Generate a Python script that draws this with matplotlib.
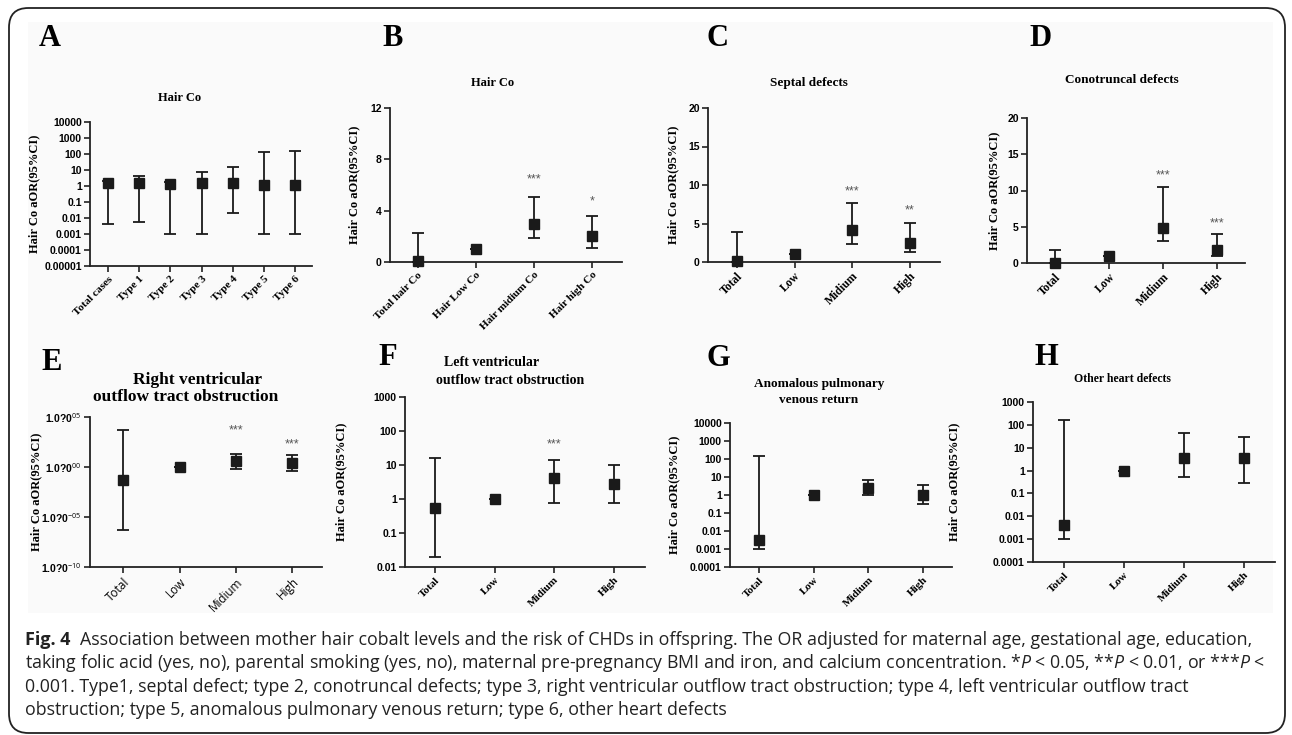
import matplotlib
matplotlib.use("Agg")
import matplotlib.pyplot as plt
from matplotlib.patches import FancyBboxPatch, Rectangle
from matplotlib.ticker import FixedLocator, FixedFormatter, NullLocator

W, H = 1292, 735

# ---- data ----
a_cats = ["Total cases", "Type 1", "Type 2", "Type 3", "Type 4", "Type 5", "Type 6"]
a_or = [1.5, 1.5, 1.4, 1.5, 1.5, 1.2, 1.2]
a_lo = [0.004, 0.006, 0.001, 0.001, 0.02, 0.001, 0.001]
a_hi = [2.2, 4.0, 1.8, 8.0, 16.0, 140.0, 150.0]

b_cats = ["Total hair Co", "Hair Low Co", "Hair midium Co", "Hair high Co"]
b_or = [0.1, 1.0, 3.0, 2.0]
b_lo = [0.0, 1.0, 1.85, 1.1]
b_hi = [2.25, 1.0, 5.1, 3.55]
b_stars = ["", "", "***", "*"]
b_star_y = [0, 0, 6.4, 4.7]

grp_cats = ["Total", "Low", "Midium", "High"]

c_or = [0.1, 1.0, 4.2, 2.45]
c_lo = [0.0, 1.0, 2.35, 1.3]
c_hi = [3.85, 1.0, 7.7, 5.1]
c_stars = ["", "", "***", "**"]
c_star_y = [0, 0, 9.2, 6.75]

d_or = [0.0, 0.95, 4.85, 1.85]
d_lo = [0.0, 0.95, 3.1, 0.9]
d_hi = [1.85, 0.95, 10.45, 4.0]
d_stars = ["", "", "***", "***"]
d_star_y = [0, 0, 12.1, 5.4]

e_or = [0.047, 1.0, 4.0, 2.7]
e_lo = [5e-7, 1.0, 0.63, 0.4]
e_hi = [4600, 1.0, 18, 16]
e_stars = ["", "", "***", "***"]
e_star_y = [1, 1, 4600, 185]
e_ticks = [1e-10, 1e-5, 1, 1e5]
e_ticklabels = [r"1.0?0$^{-10}$", r"1.0?0$^{-05}$", r"1.0?0$^{00}$", r"1.0?0$^{05}$"]

f_or = [0.56, 1.0, 4.2, 2.7]
f_lo = [0.02, 1.0, 0.75, 0.76]
f_hi = [16, 1.0, 13.7, 10.2]
f_stars = ["", "", "***", ""]
f_star_y = [1, 1, 40, 1]

g_or = [0.003, 1.0, 2.6, 0.95]
g_lo = [0.001, 1.0, 0.95, 0.3]
g_hi = [145, 1.0, 7.0, 3.4]

h_or = [0.004, 1.0, 3.7, 3.7]
h_lo = [0.001, 1.0, 0.55, 0.3]
h_hi = [160, 1.0, 42, 28]

caption_lines = [
    "Association between mother hair cobalt levels and the risk of CHDs in offspring. The OR adjusted for maternal age, gestational age, education,",
    "taking folic acid (yes, no), parental smoking (yes, no), maternal pre-pregnancy BMI and iron, and calcium concentration. *$P$ < 0.05, **$P$ < 0.01, or ***$P$ <",
    "0.001. Type1, septal defect; type 2, conotruncal defects; type 3, right ventricular outflow tract obstruction; type 4, left ventricular outflow tract",
    "obstruction; type 5, anomalous pulmonary venous return; type 6, other heart defects",
]

plt.rcParams["mathtext.fontset"] = "custom"
plt.rcParams["mathtext.rm"] = "Open Sans"
plt.rcParams["mathtext.it"] = "Open Sans:italic"

SERIF = "Liberation Serif"
SANS = "Liberation Sans"

fig = plt.figure(figsize=(W / 100, H / 100), dpi=100)

# faint grey backdrop behind the panels
fig.patches.append(Rectangle((28 / W, 1 - 613 / H), (1273 - 28) / W, (613 - 22) / H,
                             transform=fig.transFigure, facecolor="#fafafa",
                             edgecolor="none", zorder=-5))


def px_axes(x0, y0, x1, y1):
    return fig.add_axes([x0 / W, 1 - y1 / H, (x1 - x0) / W, (y1 - y0) / H])


def ftext(x, y, s, **kw):
    fig.text(x / W, 1 - y / H, s, ha="center", va="center", **kw)


def log_label(v):
    import math
    e = int(round(math.log10(v)))
    return f"{v:.{max(0, -e)}f}"


def panel(ax, cats, orv, lo, hi, xlim, log=False, ylim=None, yticks=None,
          yticklabels=None, lab_font=SERIF, lab_weight="bold", lab_size=8,
          ylab_x=-0.2, stars=None, star_y=None):
    xs = list(range(len(cats)))
    yerr = [[o - l for o, l in zip(orv, lo)], [h - o for o, h in zip(orv, hi)]]
    ax.errorbar(xs, orv, yerr=yerr, fmt="s", color="#1a1a1a", ms=6.5,
                elinewidth=1.3, capsize=4, capthick=1.3, clip_on=False, zorder=3)
    if log:
        ax.set_yscale("log")
    ax.set_xlim(*xlim)
    ax.set_ylim(*ylim)
    ax.yaxis.set_major_locator(FixedLocator(yticks))
    ax.yaxis.set_minor_locator(NullLocator())
    if yticklabels is None:
        yticklabels = [log_label(v) if log else f"{v:g}" for v in yticks]
    ax.yaxis.set_major_formatter(FixedFormatter(yticklabels))
    ax.set_xticks(xs)
    ax.set_xticklabels(cats, rotation=45, ha="right", rotation_mode="anchor",
                       family=lab_font, weight=lab_weight, fontsize=lab_size)
    for t in ax.get_yticklabels():
        t.set_family(SANS)
        t.set_weight("bold")
        t.set_fontsize(7.5)
    for s in ("top", "right"):
        ax.spines[s].set_visible(False)
    for s in ("left", "bottom"):
        ax.spines[s].set_linewidth(1.3)
        ax.spines[s].set_color("#222222")
    ax.tick_params(axis="both", length=4, width=1.2, color="#222222", pad=2)
    ax.set_ylabel("Hair Co aOR(95%CI)", family=SERIF, weight="bold", fontsize=9)
    ax.yaxis.set_label_coords(ylab_x, 0.5)
    ax.patch.set_alpha(0)
    if stars:
        for x, s, y in zip(xs, stars, star_y):
            if s:
                ax.text(x, y, s, ha="center", va="center", fontsize=9,
                        color="#555555", family=SANS)


# A
ax = px_axes(90, 122, 312, 266)
panel(ax, a_cats, a_or, a_lo, a_hi, (-0.58, 6.54), log=True, ylim=(1e-5, 1e4),
      yticks=[10.0 ** k for k in range(-5, 5)], ylab_x=-0.225)
ftext(180, 98, "Hair Co", family=SERIF, weight="bold", fontsize=9)
ftext(50, 39, "A", family=SERIF, weight="bold", fontsize=22)

# B
ax = px_axes(390, 108, 622, 262)
panel(ax, b_cats, b_or, b_lo, b_hi, (-0.48, 3.52), ylim=(0, 12),
      yticks=[0, 4, 8, 12], ylab_x=-0.13, stars=b_stars, star_y=b_star_y)
ftext(493, 83, "Hair Co", family=SERIF, weight="bold", fontsize=9)
ftext(393, 39, "B", family=SERIF, weight="bold", fontsize=22)

# C
ax = px_axes(708, 108, 940, 262)
panel(ax, grp_cats, c_or, c_lo, c_hi, (-0.5, 3.52), ylim=(0, 20),
      yticks=[0, 5, 10, 15, 20], ylab_x=-0.125, lab_size=8.5,
      stars=c_stars, star_y=c_star_y)
ftext(809, 83, "Septal defects", family=SERIF, weight="bold", fontsize=9.5)
ftext(718, 39, "C", family=SERIF, weight="bold", fontsize=22)

# D
ax = px_axes(1027, 118, 1245, 263)
panel(ax, grp_cats, d_or, d_lo, d_hi, (-0.52, 3.52), ylim=(0, 20),
      yticks=[0, 5, 10, 15, 20], ylab_x=-0.124, lab_size=8.5,
      stars=d_stars, star_y=d_star_y)
ftext(1122, 80, "Conotruncal defects", family=SERIF, weight="bold", fontsize=9.5)
ftext(1041, 39, "D", family=SERIF, weight="bold", fontsize=22)

# E
ax = px_axes(90, 417, 322, 567)
panel(ax, grp_cats, e_or, e_lo, e_hi, (-0.59, 3.53), log=True, ylim=(1e-10, 1e5),
      yticks=e_ticks, yticklabels=e_ticklabels, lab_font="Open Sans",
      lab_weight="normal", lab_size=8.5, ylab_x=-0.207,
      stars=e_stars, star_y=e_star_y)
ftext(197, 380, "Right ventricular", family=SERIF, weight="bold", fontsize=12.5)
ftext(186, 397, "outflow tract obstruction", family=SERIF, weight="bold", fontsize=12.5)
ftext(52, 363, "E", family=SERIF, weight="bold", fontsize=22)

# F
ax = px_axes(405, 397, 645, 567)
panel(ax, grp_cats, f_or, f_lo, f_hi, (-0.5, 3.52), log=True, ylim=(0.01, 1000),
      yticks=[10.0 ** k for k in range(-2, 4)], ylab_x=-0.24,
      stars=f_stars, star_y=f_star_y)
ftext(492, 363, "Left ventricular", family=SERIF, weight="bold", fontsize=10)
ftext(510, 380, "outflow tract obstruction", family=SERIF, weight="bold", fontsize=10)
ftext(388, 357, "F", family=SERIF, weight="bold", fontsize=22)

# G
ax = px_axes(730, 423, 952, 567)
panel(ax, grp_cats, g_or, g_lo, g_hi, (-0.53, 3.53), log=True, ylim=(1e-4, 1e4),
      yticks=[10.0 ** k for k in range(-4, 5)], ylab_x=-0.225)
ftext(819, 384, "Anomalous pulmonary", family=SERIF, weight="bold", fontsize=9.5)
ftext(819, 400, "venous return", family=SERIF, weight="bold", fontsize=9.5)
ftext(718, 359, "G", family=SERIF, weight="bold", fontsize=22)

# H
ax = px_axes(1033, 402, 1275, 562)
panel(ax, grp_cats, h_or, h_lo, h_hi, (-0.52, 3.52), log=True, ylim=(1e-4, 1e3),
      yticks=[10.0 ** k for k in range(-4, 4)], ylab_x=-0.3)
ftext(1122, 379, "Other heart defects", family=SERIF, weight="bold", fontsize=8.5)
ftext(1046, 358, "H", family=SERIF, weight="bold", fontsize=22)

# frame
frame = FancyBboxPatch((9 / W, 1 - 733 / H), (1285 - 9) / W, (733 - 8) / H,
                       boxstyle="round,pad=0,rounding_size=0.015",
                       transform=fig.transFigure, fill=False, lw=1.3,
                       edgecolor="#222222", mutation_aspect=W / H)
fig.patches.append(frame)

# caption
cap_y = [640, 663, 687, 710]
fig.text(25 / W, 1 - cap_y[0] / H, "Fig. 4", family="Open Sans", weight="bold",
         fontsize=13, color="#222222", va="center")
fig.text(80 / W, 1 - cap_y[0] / H, caption_lines[0], family="Open Sans",
         fontsize=12.8, color="#222222", va="center")
for y, line in zip(cap_y[1:], caption_lines[1:]):
    fig.text(25 / W, 1 - y / H, line, family="Open Sans", fontsize=12.8,
             color="#222222", va="center")

fig.savefig("out.png", dpi=100)
